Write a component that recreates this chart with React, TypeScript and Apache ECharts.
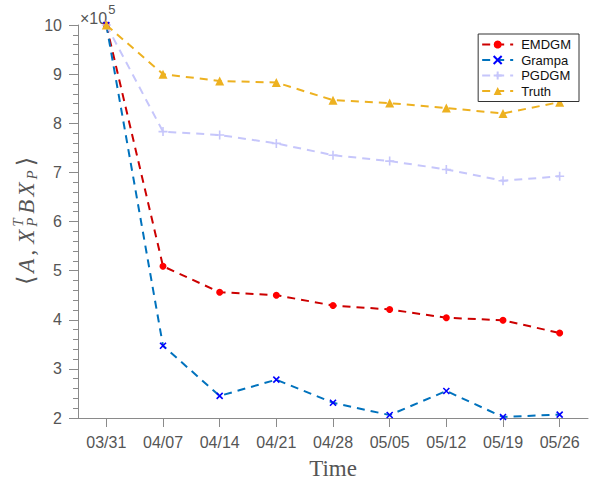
import React, { useEffect, useRef } from "react";
import * as echarts from "echarts";

// Weekly dates on the horizontal axis
const dates = ["03/31", "04/07", "04/14", "04/21", "04/28", "05/05", "05/12", "05/19", "05/26"];

// Values of <A, X_P^T B X_P>, in units of 10^5
const emdgm = [10, 5.09, 4.56, 4.5, 4.29, 4.21, 4.04, 3.99, 3.73];
const grampa = [10, 3.47, 2.45, 2.78, 2.31, 2.06, 2.55, 2.02, 2.07];
const pgdgm = [10, 7.83, 7.76, 7.59, 7.35, 7.23, 7.06, 6.83, 6.92];
const truth = [10, 9.0, 8.86, 8.83, 8.47, 8.41, 8.31, 8.2, 8.43];

const yTicks = [2, 3, 4, 5, 6, 7, 8, 9, 10];
const exponent = "5";

const AXIS_TEXT = "#555555";
const AXIS_LINE = "#8a8a8a";
const SANS = "'Liberation Sans', Arial, sans-serif";
const SERIF = "'Liberation Serif', 'Times New Roman', serif";

const X_MARK = "path://M0,0L10,10M10,0L0,10";
const PLUS_MARK = "path://M5,0L5,10M0,5L10,5";

function textWidth(text: string, font: string): number {
  const ctx = document.createElement("canvas").getContext("2d");
  if (!ctx) return text.length * 10;
  ctx.font = font;
  return ctx.measureText(text).width;
}

// Builds the rotated y-axis label  <A, X_P^T B X_P>, spread to a given length
function buildYLabel(cx: number, cy: number, length: number) {
  const main = 23;
  const small = 15;
  const italic = `italic ${main}px ${SERIF}`;
  const roman = `${main}px ${SERIF}`;
  const bracket = `24px 'DejaVu Sans', sans-serif`;
  const smallItalic = `italic ${small}px ${SERIF}`;

  type Piece = { t: string; font: string; dy: number; adv?: number; extra: number };
  const pieces: Piece[] = [
    { t: "\u27E8", font: bracket, dy: 0, extra: 0 },
    { t: "A", font: italic, dy: 0, extra: 0 },
    { t: ",", font: roman, dy: 0, extra: 3 },
    { t: "X", font: italic, dy: 0, extra: 0 },
    { t: "T", font: smallItalic, dy: -8, adv: 0, extra: 0 },
    { t: "P", font: smallItalic, dy: 6, extra: 1 },
    { t: "B", font: italic, dy: 0, extra: 0 },
    { t: "X", font: italic, dy: 0, extra: 0 },
    { t: "P", font: smallItalic, dy: 6, extra: 1 },
    { t: "\u27E9", font: bracket, dy: 0, extra: 0 },
  ];

  const widths = pieces.map((p) => (p.adv !== undefined ? p.adv : textWidth(p.t, p.font)));
  const natural = pieces.reduce((s, p, i) => s + widths[i] + p.extra, 0);
  const gapIdx = pieces
    .map((p, i) => (i < pieces.length - 1 && p.adv === undefined ? i : -1))
    .filter((i) => i >= 0);
  const stretch = Math.max(0, Math.min(3, (length - natural) / gapIdx.length));

  let x = 0;
  const placed: { t: string; font: string; dy: number; x: number }[] = [];
  pieces.forEach((p, i) => {
    placed.push({ t: p.t, font: p.font, dy: p.dy, x });
    x += widths[i] + p.extra;
    if (gapIdx.indexOf(i) >= 0) x += stretch;
  });
  const total = x;
  return {
    type: "group",
    x: cx,
    y: cy,
    rotation: Math.PI / 2,
    silent: true,
    children: placed.map((p) => ({
      type: "text",
      x: p.x - total / 2,
      y: p.dy,
      style: {
        text: p.t,
        font: p.font,
        fill: AXIS_TEXT,
        verticalAlign: "middle",
        align: "left",
      },
    })),
  };
}

function lineSeries(
  name: string,
  data: number[],
  lineColor: string,
  markColor: string,
  symbol: string,
  symbolSize: number,
  stroked: boolean
) {
  return {
    name,
    type: "line",
    data,
    symbol,
    symbolSize,
    showSymbol: true,
    lineStyle: { color: lineColor, width: 2, type: [8, 6] },
    itemStyle: stroked
      ? { color: markColor, borderColor: markColor, borderWidth: 1.6 }
      : { color: markColor, borderWidth: 0 },
    emphasis: { disabled: true },
  };
}

export default function App() {
  const ref = useRef<HTMLDivElement>(null);

  useEffect(() => {
    if (!ref.current) return;
    const chart = echarts.init(ref.current, undefined, { renderer: "svg" });

    const timesFont = `16px ${SANS}`;
    const baseWidth = textWidth("\u00D710", timesFont);

    chart.setOption({
      animation: false,
      backgroundColor: "#ffffff",
      grid: { left: 78, right: 6, top: 25, bottom: 61, containLabel: false },
      legend: {
        orient: "vertical",
        right: 15,
        top: 34,
        data: ["EMDGM", "Grampa", "PGDGM", "Truth"],
        itemWidth: 31,
        itemHeight: 10,
        itemGap: 2.5,
        padding: [4, 8, 4, 3],
        borderColor: "#333333",
        borderWidth: 1,
        backgroundColor: "#ffffff",
        textStyle: { fontFamily: SANS, fontSize: 13, color: "#111111", padding: [0, 0, 0, 3] },
      },
      xAxis: {
        type: "category",
        data: dates,
        boundaryGap: true,
        axisLine: { lineStyle: { color: AXIS_LINE, width: 1 } },
        axisTick: { show: true, alignWithLabel: true, length: 9, lineStyle: { color: AXIS_LINE } },
        axisLabel: { fontFamily: SANS, fontSize: 16, color: AXIS_TEXT, margin: 16 },
        splitLine: { show: false },
      },
      yAxis: {
        type: "value",
        min: yTicks[0],
        max: yTicks[yTicks.length - 1],
        interval: 1,
        axisLine: { show: true, lineStyle: { color: AXIS_LINE, width: 1 } },
        axisTick: { show: true, length: 9, lineStyle: { color: AXIS_LINE } },
        minorTick: { show: true, splitNumber: 5, length: 5, lineStyle: { color: AXIS_LINE } },
        axisLabel: { fontFamily: SANS, fontSize: 16, color: AXIS_TEXT, margin: 16 },
        splitLine: { show: false },
      },
      series: [
        lineSeries("EMDGM", emdgm, "#cc0000", "#ff0000", "circle", 7, false),
        lineSeries("Grampa", grampa, "#0072bd", "#0000ff", X_MARK, 6, true),
        lineSeries("PGDGM", pgdgm, "#c6c6fb", "#c6c6fb", PLUS_MARK, 9, true),
        lineSeries("Truth", truth, "#edb120", "#edb120", "triangle", 9, false),
      ],
      graphic: [
        {
          type: "text",
          x: 80,
          y: 18,
          silent: true,
          style: { text: "\u00D710", font: timesFont, fill: AXIS_TEXT, verticalAlign: "middle" },
        },
        {
          type: "text",
          x: 80 + baseWidth + 1,
          y: 9,
          silent: true,
          style: { text: exponent, font: `13px ${SANS}`, fill: AXIS_TEXT, verticalAlign: "middle" },
        },
        {
          type: "text",
          x: 333,
          y: 468,
          silent: true,
          style: {
            text: "Time",
            font: `23px ${SERIF}`,
            fill: AXIS_TEXT,
            align: "center",
            verticalAlign: "middle",
          },
        },
        buildYLabel(26, 221, 131),
      ],
    });

    return () => chart.dispose();
  }, []);

  return <div ref={ref} style={{ width: 594, height: 479, position: "absolute", left: 0, top: 0 }} />;
}
